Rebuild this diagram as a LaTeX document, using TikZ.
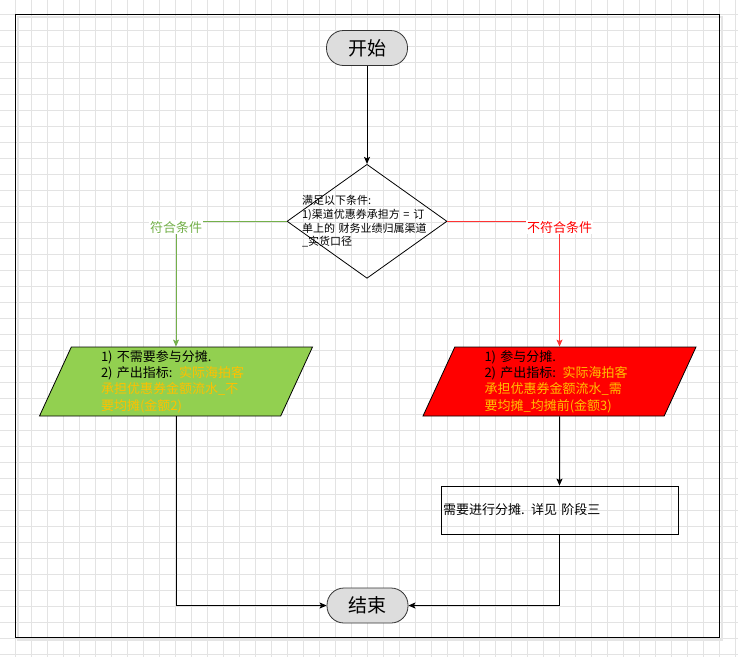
\documentclass[tikz,border=0pt]{standalone}
\usepackage{fontspec}
\setmainfont{Noto Sans CJK SC}
\usetikzlibrary{arrows.meta, positioning, shapes.geometric}
\definecolor{gridgray}{HTML}{E3E3E3}
\definecolor{termfill}{HTML}{DDDDDD}
\definecolor{okgreen}{HTML}{74B04A}
\definecolor{okfill}{HTML}{92D050}
\definecolor{nogored}{HTML}{FF3333}
\definecolor{nofill}{HTML}{FF0000}
\definecolor{metric}{HTML}{FFC000}
\tikzset{
  terminal/.style = {draw=black!80, fill=termfill, rounded corners=17pt,
                     minimum width=81pt, minimum height=35pt, inner sep=0pt,
                     font=\fontsize{19}{22}\selectfont},
  decision/.style = {draw, diamond, minimum width=160pt, minimum height=114pt,
                     inner sep=0pt},
  condtext/.style = {align=left, text width=130pt, inner sep=0pt,
                     font=\fontsize{11}{13.7}\selectfont},
  para/.style     = {draw, trapezium, trapezium left angle=63,
                     trapezium right angle=117, trapezium stretches body,
                     minimum width=273pt, minimum height=69pt, inner sep=0pt,
                     text width=150pt, align=left,
                     font=\fontsize{13}{16.3}\selectfont},
  process/.style  = {draw, minimum width=237pt, minimum height=48pt,
                     inner sep=2pt, text width=233pt, align=left,
                     font=\fontsize{13}{16}\selectfont},
  branch/.style   = {fill=white, inner sep=1pt, font=\fontsize{13}{15}\selectfont},
  flow/.style     = {-{Stealth[length=7pt, width=6pt, inset=1.5pt]}, line width=1pt},
}

\begin{document}
\begin{tikzpicture}[x=1pt, y=-1pt, line width=0.8pt]
  \useasboundingbox (0,0) rectangle (738,657);
  % background grid
  \foreach \gx in {-1,15,...,735}
    \draw[gridgray, line width=0.6pt] (\gx,0) -- (\gx,657);
  \foreach \gy in {14,30,...,654}
    \draw[gridgray, line width=0.6pt] (0,\gy) -- (738,\gy);
  % page frame
  \draw[black!10, line width=2.5pt] (18,17) rectangle (722,640);
  \draw[line width=1pt] (15,14) rectangle (719,637);

  \node[terminal] (start) at (367,48) {开始};
  \node[decision, below=98pt of start] (dec) {};
  \node[condtext] (dectext) at (dec)
    {满足以下条件:\\1)渠道优惠券承担方 = 订\\单上的 财务业绩归属渠道\\\_实货口径};
  \node[para, fill=okfill] (need0) at (176,381.5)
    {1) 不需要参与分摊.\\2) 产出指标: \color{metric}实际海拍客\\承担优惠券金额流水\_不\\要均摊(金额2)};
  \node[para, fill=nofill] (need1) at (559.5,381.5)
    {1) 参与分摊.\\2) 产出指标: \color{metric}实际海拍客\\承担优惠券金额流水\_需\\要均摊\_均摊前(金额3)};
  \node[process] (stage) at (559.5,510) {需要进行分摊. 详见 阶段三};
  \node[terminal] (stop) at (367.5,605.5) {结束};

  \draw[flow] (start) -- (dec);
  \draw[flow, okgreen] (dec.west) -| (need0.north);
  \draw[flow, nogored] (dec.east) -| (need1.north);
  \node[branch, text=okgreen, yshift=-6pt] (yes) at (need0.north |- dec.west) {符合条件};
  \node[branch, text=nofill, yshift=-6pt] (no) at (need1.north |- dec.east) {不符合条件};
  \draw[flow] (need1) -- (stage);
  \draw[flow] (need0) |- (stop);
  \draw[flow] (stage) |- (stop);
\end{tikzpicture}
\end{document}
